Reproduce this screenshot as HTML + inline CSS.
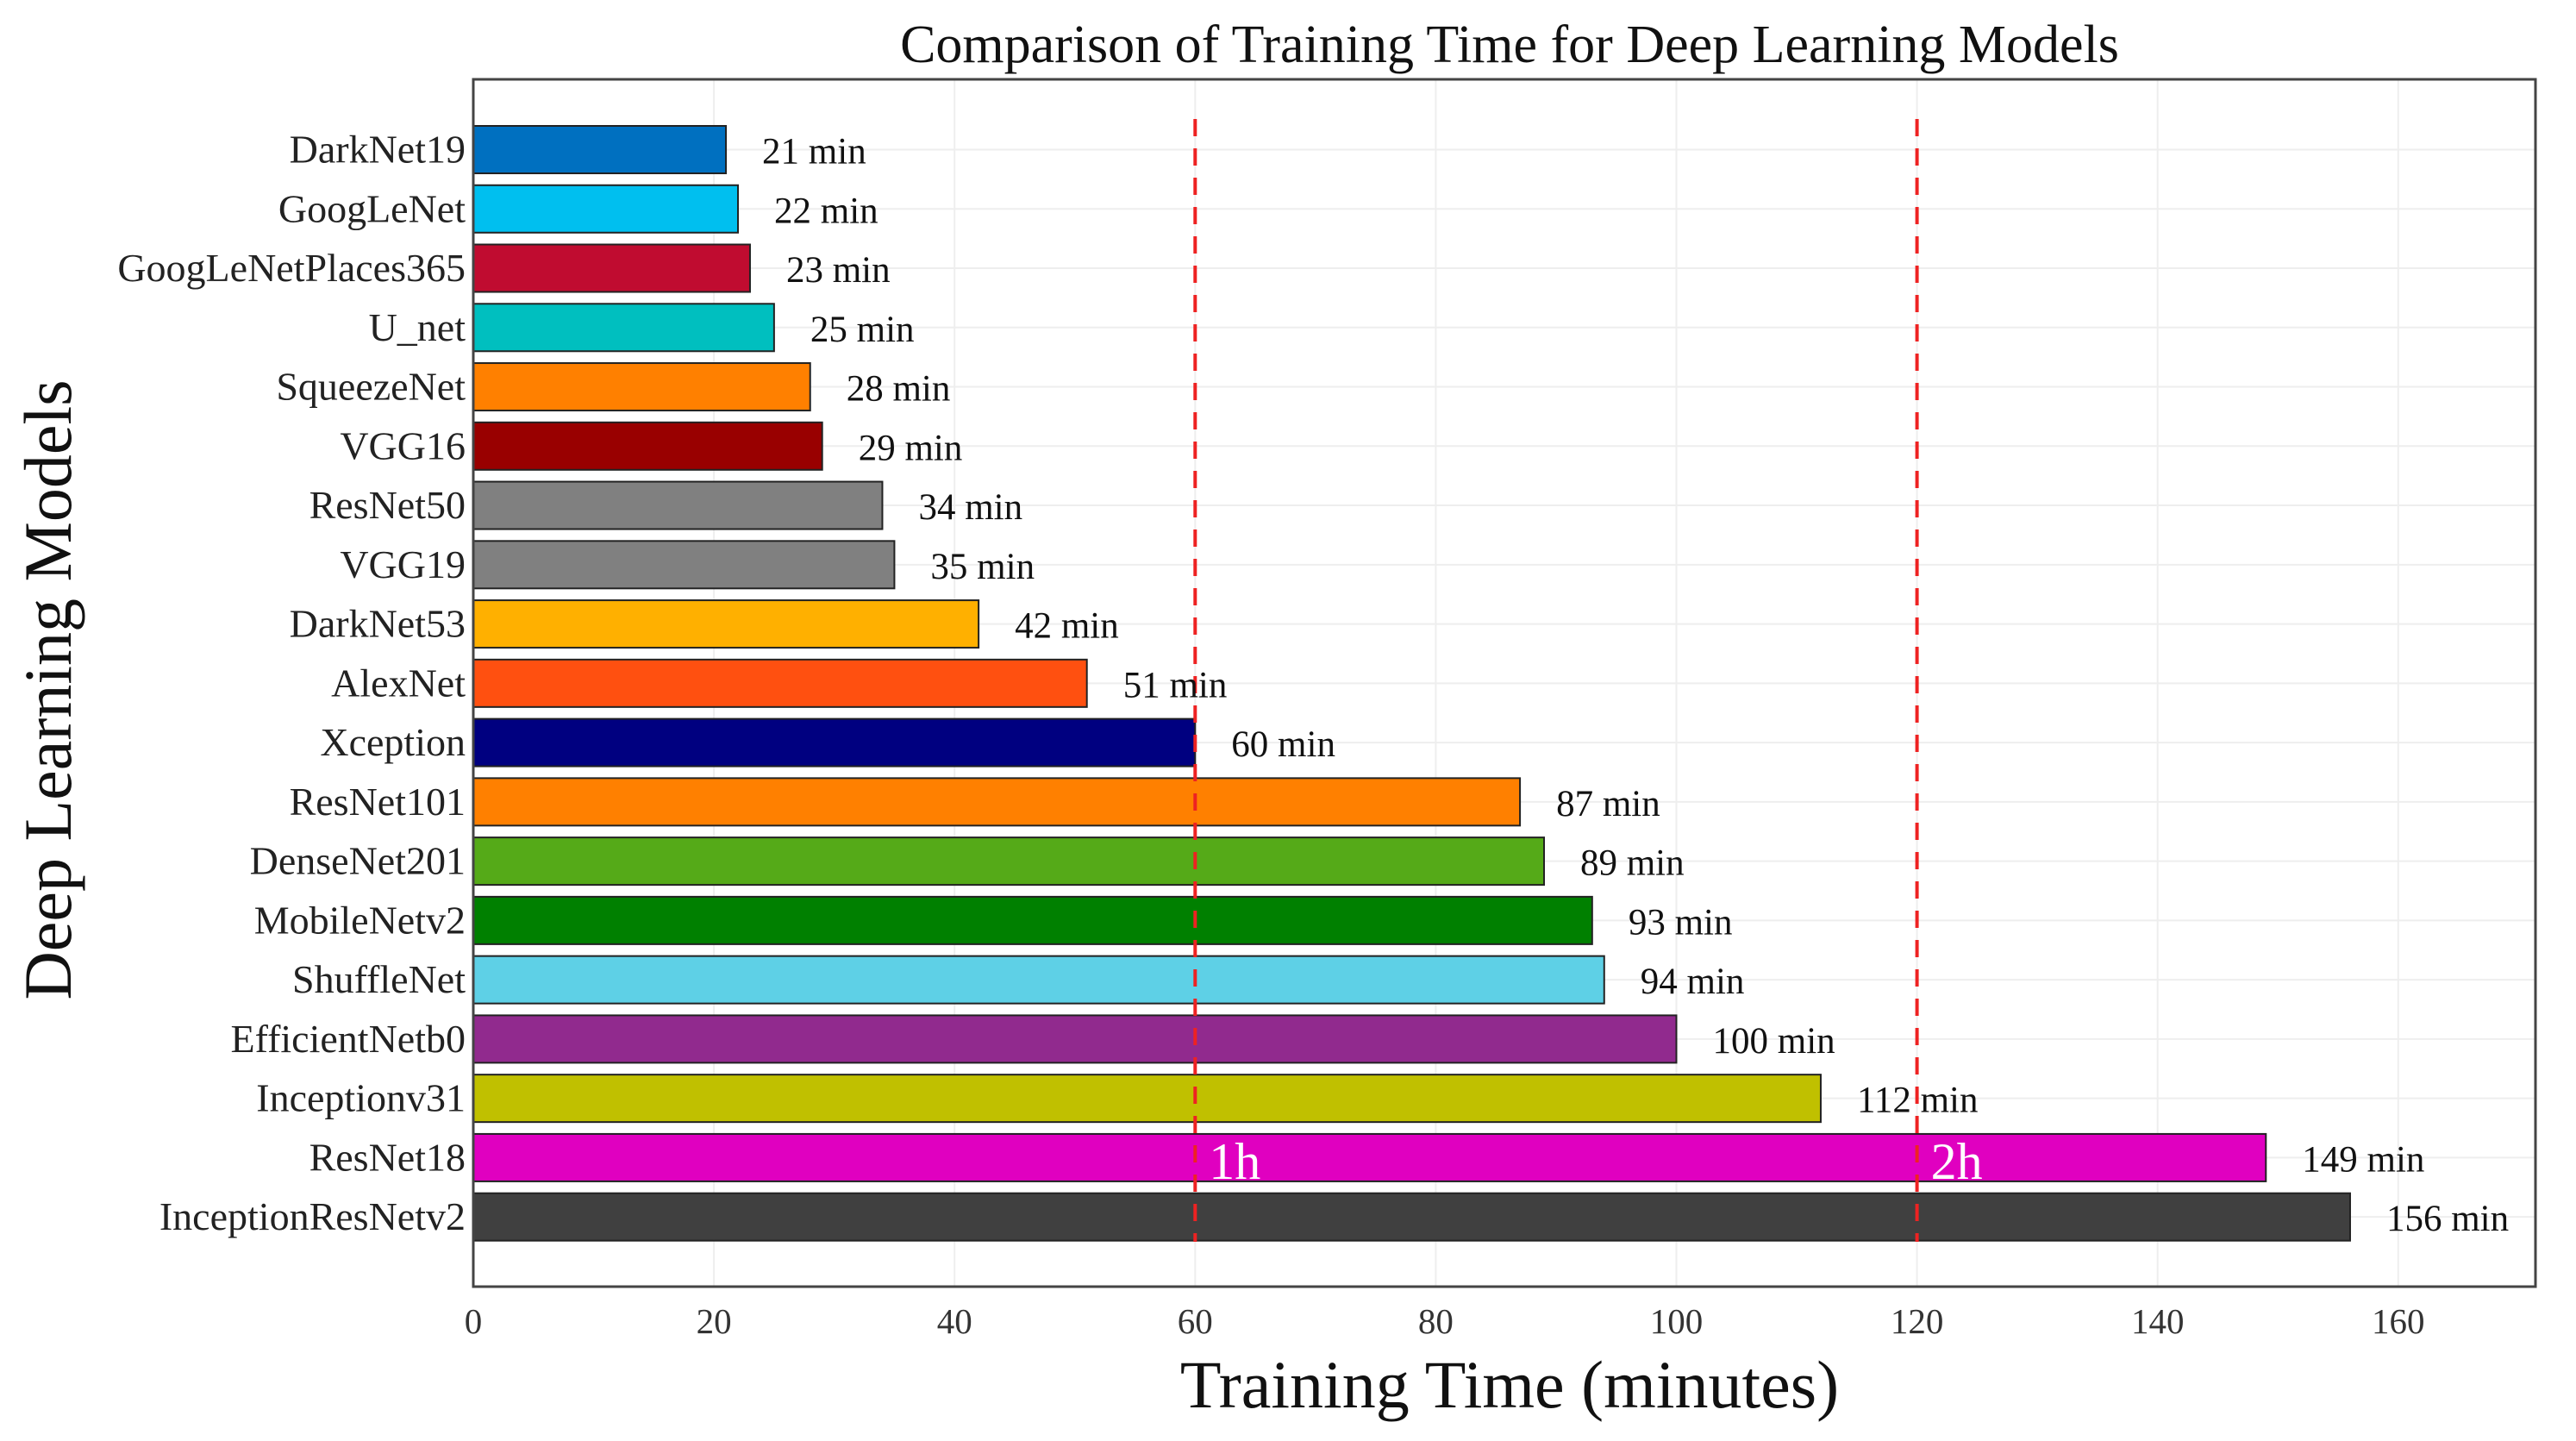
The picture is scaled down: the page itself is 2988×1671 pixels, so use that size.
<!DOCTYPE html>
<html><head><meta charset="utf-8"><style>
html,body{margin:0;padding:0;background:#fff}
svg text{font-family:"Liberation Serif",serif}
</style></head><body>
<svg id="chart" width="2988" height="1666" xmlns="http://www.w3.org/2000/svg">
<rect x="0" y="0" width="2988" height="1666" fill="#fff"/>
<text x="1751" y="72" font-size="62" text-anchor="middle" fill="#111">Comparison of Training Time for Deep Learning Models</text>
<g id="grid"></g>
<g id="bars"></g>
<g id="refs"></g>
<g id="labels"></g>
<rect x="549" y="92" width="2392" height="1400" fill="none" stroke="#444" stroke-width="3"/>
<text x="1751" y="1632" font-size="78" text-anchor="middle" fill="#111">Training Time (minutes)</text>
<text transform="translate(82,800) rotate(-90)" font-size="78" text-anchor="middle" fill="#111">Deep Learning Models</text>
</svg>
<script>
const models = ["DarkNet19","GoogLeNet","GoogLeNetPlaces365","U_net","SqueezeNet","VGG16","ResNet50","VGG19","DarkNet53","AlexNet","Xception","ResNet101","DenseNet201","MobileNetv2","ShuffleNet","EfficientNetb0","Inceptionv31","ResNet18","InceptionResNetv2"];
const times = [21,22,23,25,28,29,34,35,42,51,60,87,89,93,94,100,112,149,156];
const colors = ["#0070C0","#00BFEF","#C00C30","#00BFBF","#FF8000","#990000","#808080","#808080","#FFB000","#FF5010","#000080","#FF8000","#55AA18","#008000","#5ED0E6","#912A8E","#C0C000","#E000C0","#404040"];
const xTicks = [0,20,40,60,80,100,120,140,160];
const refLines = [60,120];
const refLabels = ["1h","2h"];

const NS="http://www.w3.org/2000/svg";
const x0=549, xScale=13.955, yTop=146, pitch=68.76, barH=55, plotTop=92, plotBot=1492;
const X=v=>x0+v*xScale;
const Y=i=>yTop+i*pitch;
function mk(tag,attrs,parent,txt){const e=document.createElementNS(NS,tag);for(const k in attrs)e.setAttribute(k,attrs[k]);if(txt!==undefined)e.textContent=txt;document.getElementById(parent).appendChild(e);return e;}

xTicks.forEach(t=>{
  const g=mk('line',{x1:X(t),x2:X(t),y1:plotTop,y2:plotBot,stroke:'#eee','stroke-width':2},'grid');
  
  
  const l=mk('text',{x:X(t),y:1546,'font-size':41,'text-anchor':'middle',fill:'#333'},'labels',String(t));
  
  
});
models.forEach((m,i)=>{
  const gl=mk('line',{x1:x0,x2:2941,y1:Y(i)+barH/2,y2:Y(i)+barH/2,stroke:'#eee','stroke-width':2},'grid');
  
  
  const b=mk('rect',{x:x0,y:Y(i),width:X(times[i])-x0,height:barH,fill:colors[i],stroke:'#222','stroke-width':2},'bars');
  
  
  const yl=mk('text',{x:540,y:Y(i)+barH/2+15,'font-size':46,'text-anchor':'end',fill:'#222'},'labels',m);
  
  
  const vl=mk('text',{x:X(times[i])+42,y:Y(i)+barH/2+16,'font-size':43,fill:'#111'},'labels',times[i]+' min');
  
  
});
refLines.forEach((r,k)=>{
  const l=mk('line',{x1:X(r),x2:X(r),y1:138,y2:1440,stroke:'#EE2222','stroke-width':4,'stroke-dasharray':'20,14'},'refs');
  
  
  const t=mk('text',{x:X(r)+16,y:1367,'font-size':60,fill:'#fff'},'refs',refLabels[k]);
  
  
});
</script>
</body></html>
